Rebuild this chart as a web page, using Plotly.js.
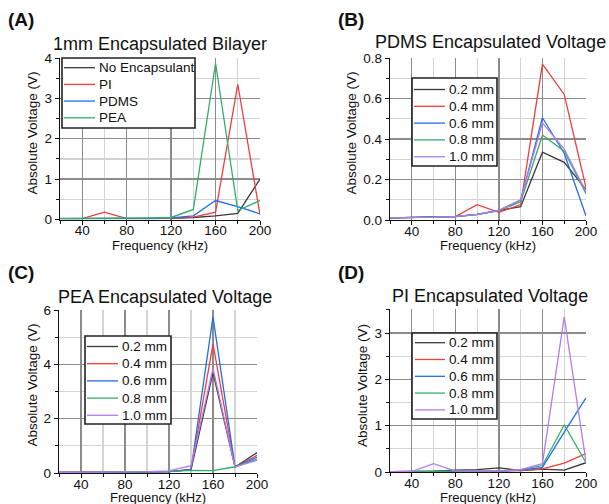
<!DOCTYPE html>
<html><head><meta charset="utf-8">
<script src="https://cdn.plot.ly/plotly-3.0.1.min.js"></script>
<style>html,body{margin:0;padding:0;background:#fff}#chart{width:609px;height:504px}</style>
</head><body><div id="chart"></div>
<script>
const freq = [20, 40, 60, 80, 100, 120, 140, 160, 180, 200];

// Panel A: 1mm Encapsulated Bilayer
const A_names = ["No Encapsulant", "PI", "PDMS", "PEA"];
const A_noEnc = [0.02, 0.02, 0.02, 0.02, 0.02, 0.03, 0.05, 0.09, 0.15, 1.0];
const A_PI    = [0.02, 0.02, 0.18, 0.02, 0.02, 0.03, 0.06, 0.18, 3.35, 0.12];
const A_PDMS  = [0.02, 0.02, 0.02, 0.02, 0.03, 0.04, 0.09, 0.47, 0.32, 0.14];
const A_PEA   = [0.03, 0.03, 0.03, 0.03, 0.04, 0.05, 0.25, 3.87, 0.22, 0.47];

const thick = ["0.2 mm", "0.4 mm", "0.6 mm", "0.8 mm", "1.0 mm"];

// Panel B: PDMS Encapsulated Voltage
const B_02 = [0.01, 0.012, 0.012, 0.017, 0.028, 0.046, 0.066, 0.335, 0.285, 0.15];
const B_04 = [0.01, 0.012, 0.012, 0.017, 0.076, 0.038, 0.076, 0.77, 0.62, 0.16];
const B_06 = [0.01, 0.012, 0.012, 0.017, 0.028, 0.048, 0.098, 0.505, 0.33, 0.02];
const B_08 = [0.01, 0.012, 0.012, 0.017, 0.026, 0.046, 0.09, 0.42, 0.34, 0.13];
const B_10 = [0.012, 0.013, 0.013, 0.018, 0.028, 0.048, 0.1, 0.48, 0.35, 0.14];

// Panel C: PEA Encapsulated Voltage
const C_02 = [0.02, 0.02, 0.03, 0.03, 0.04, 0.05, 0.12, 3.7, 0.22, 0.75];
const C_04 = [0.02, 0.02, 0.03, 0.03, 0.04, 0.05, 0.12, 4.75, 0.22, 0.65];
const C_06 = [0.02, 0.02, 0.03, 0.03, 0.04, 0.05, 0.12, 5.75, 0.22, 0.58];
const C_08 = [0.02, 0.02, 0.03, 0.03, 0.04, 0.06, 0.1, 0.09, 0.23, 0.5];
const C_10 = [0.02, 0.02, 0.03, 0.04, 0.05, 0.08, 0.27, 3.85, 0.22, 0.47];

// Panel D: PI Encapsulated Voltage
const D_02 = [0.01, 0.01, 0.02, 0.04, 0.05, 0.09, 0.03, 0.06, 0.04, 0.2];
const D_04 = [0.01, 0.01, 0.01, 0.02, 0.02, 0.02, 0.03, 0.07, 0.19, 0.4];
const D_06 = [0.01, 0.01, 0.01, 0.02, 0.02, 0.02, 0.04, 0.1, 0.86, 1.6];
const D_08 = [0.01, 0.01, 0.02, 0.02, 0.02, 0.02, 0.05, 0.14, 1.02, 0.2];
const D_10 = [0.01, 0.01, 0.18, 0.02, 0.02, 0.02, 0.05, 0.18, 3.35, 0.22];

const panelTitles = ["1mm Encapsulated Bilayer", "PDMS Encapsulated Voltage", "PEA Encapsulated Voltage", "PI Encapsulated Voltage"];
const panelLabels = ["(A)", "(B)", "(C)", "(D)"];
const xTitle = "Frequency (kHz)";
const yTitle = "Absolute Voltage (V)";

const colors = ["#3a3a3a", "#f23c3c", "#1f6fe6", "#35ad6a", "#b57bef"];

const FONT = "Liberation Sans, Arial, sans-serif";
const W = 609, H = 504;
const fx = p => p / W, fy = p => 1 - p / H;

const traces = [];
const shapes = [];
const annotations = [];

// legend drawn as a box with line samples and labels, in paper coordinates
function legendBox(names, box, firstY, step, lineX0, lineX1, textX) {
  shapes.push({type: "rect", xref: "paper", yref: "paper", x0: fx(box[0]), x1: fx(box[1]), y0: fy(box[3]), y1: fy(box[2]),
    line: {color: "#222", width: 1.6}, fillcolor: "#fff", layer: "above"});
  names.forEach((n, i) => {
    const yy = firstY + i * step;
    shapes.push({type: "line", xref: "paper", yref: "paper", x0: fx(lineX0), x1: fx(lineX1), y0: fy(yy), y1: fy(yy),
      line: {color: colors[i], width: 1.3}, layer: "above"});
    annotations.push({text: n, x: fx(textX), y: fy(yy), xref: "paper", yref: "paper", showarrow: false,
      xanchor: "left", yanchor: "middle", font: {family: FONT, size: 13.5, color: "#111"}});
  });
}

function add(ys, names, xa, ya) {
  ys.forEach((y, i) => traces.push({
    x: freq, y: y, name: names[i], type: "scatter", mode: "lines", showlegend: false,
    line: {color: colors[i], width: 1.3}, xaxis: xa, yaxis: ya
  }));
}
add([A_noEnc, A_PI, A_PDMS, A_PEA], A_names, "x", "y");
add([B_02, B_04, B_06, B_08, B_10], thick, "x2", "y2");
add([C_02, C_04, C_06, C_08, C_10], thick, "x3", "y3");
add([D_02, D_04, D_06, D_08, D_10], thick, "x4", "y4");

const tickFont = {family: FONT, size: 13.5, color: "#111"};

function xax(l, r, anchor) {
  return {domain: [fx(l), fx(r)], anchor: anchor, range: [20, 200], tickvals: [40, 80, 120, 160, 200],
    showgrid: true, gridcolor: "#8c8c8c", gridwidth: 1.4, zeroline: false,
    showline: true, linecolor: "#111", linewidth: 1.3, ticks: "outside", ticklen: 4, tickcolor: "#111",
    tickfont: tickFont, ticklabelstandoff: -6,
    minor: {tick0: 0, dtick: 20, showgrid: true, gridcolor: "#d4d4d4", gridwidth: 1.2, ticks: "outside", ticklen: 3, tickcolor: "#111"}};
}
function yax(b, t, anchor, range, dtick, mdtick, fmt) {
  return {domain: [fy(b), fy(t)], anchor: anchor, range: range, dtick: dtick, tickformat: fmt,
    showgrid: true, gridcolor: "#8c8c8c", gridwidth: 1.4, zeroline: false,
    showline: true, linecolor: "#111", linewidth: 1.3, ticks: "outside", ticklen: 4, tickcolor: "#111",
    tickfont: tickFont,
    minor: {dtick: mdtick, showgrid: true, gridcolor: "#d4d4d4", gridwidth: 1.2, ticks: "outside", ticklen: 3, tickcolor: "#111"}};
}
function txt(text, x, y, size, opts) {
  annotations.push(Object.assign({text: text, x: fx(x), y: fy(y), xref: "paper", yref: "paper", showarrow: false,
    xanchor: "center", yanchor: "middle", font: {family: FONT, size: size, color: "#111"}}, opts || {}));
}

// panel geometry: [plot left, plot right, plot bottom, plot top]
const geo = [[60, 260, 219.5, 58], [390, 586, 220, 58], [59, 257, 473, 310], [390, 586, 472, 309]];
const titlePos = [[160, 44], [490, 42], [165, 297], [490, 296]];
const labelPos = [[6, 20], [336, 20], [6, 272], [336, 272]];
const xTitlePos = [[160, 245], [488, 245], [158, 497.5], [488, 497]];
const yTitlePos = [[32, 133.5], [351, 133.5], [32, 385.5], [362, 386]];

for (let i = 0; i < 4; i++) {
  txt(panelTitles[i], titlePos[i][0], titlePos[i][1], 18);
  txt("<b>" + panelLabels[i] + "</b>", labelPos[i][0], labelPos[i][1], 19, {xanchor: "left"});
  txt(xTitle, xTitlePos[i][0], xTitlePos[i][1], 13, {borderpad: 0});
  txt(yTitle, yTitlePos[i][0], yTitlePos[i][1], 13.5, {textangle: -90});
}

legendBox(A_names, [62, 195, 58, 128], 67.7, 16.7, 64, 95, 97);
legendBox(thick, [412, 497, 78, 166], 89.5, 16.8, 414, 445, 447);
legendBox(thick, [85, 171, 336, 424], 346.5, 17.2, 87, 118, 120);
legendBox(thick, [412, 497, 333, 419], 342.7, 16.8, 415, 445, 447);

const layout = {
  width: W, height: H, margin: {l: 0, r: 0, t: 0, b: 0},
  paper_bgcolor: "#fff", plot_bgcolor: "#fff", showlegend: false,
  xaxis: xax(geo[0][0], geo[0][1], "y"), yaxis: yax(geo[0][2], geo[0][3], "x", [0, 4], 1, 0.5),
  xaxis2: xax(geo[1][0], geo[1][1], "y2"), yaxis2: yax(geo[1][2], geo[1][3], "x2", [0, 0.8], 0.2, 0.1, ".1f"),
  xaxis3: xax(geo[2][0], geo[2][1], "y3"), yaxis3: yax(geo[2][2], geo[2][3], "x3", [0, 6], 2, 1),
  xaxis4: xax(geo[3][0], geo[3][1], "y4"), yaxis4: yax(geo[3][2], geo[3][3], "x4", [0, 3.52], 1, 0.5),
  shapes: shapes,
  annotations: annotations
};
Plotly.newPlot("chart", traces, layout, {displayModeBar: false, staticPlot: true});
</script></body></html>
